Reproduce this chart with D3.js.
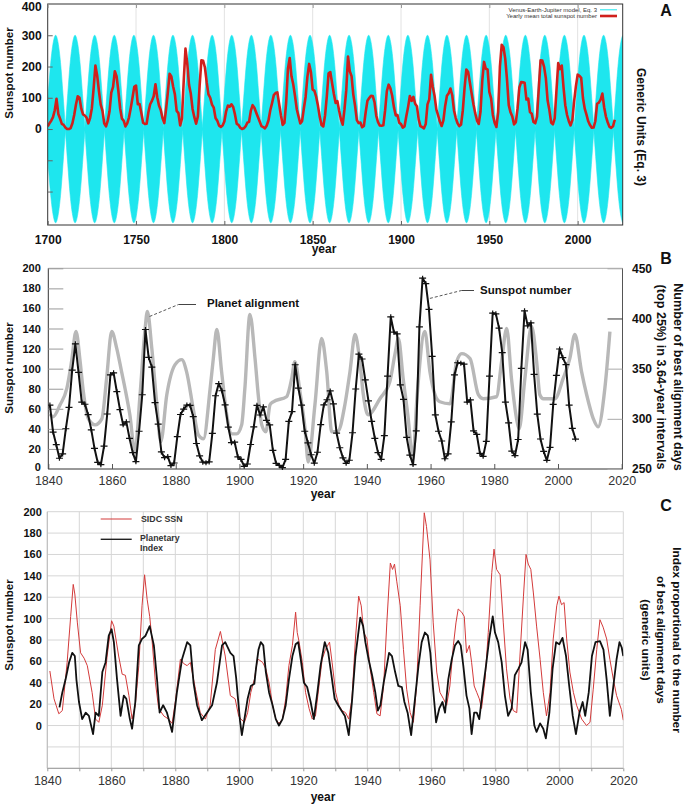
<!DOCTYPE html>
<html><head><meta charset="utf-8">
<script src="https://cdn.jsdelivr.net/npm/d3@7"></script>
<style>
body{margin:0;background:#fff;}
svg{display:block;font-family:"Liberation Sans",Arial,Helvetica,sans-serif;}
</style></head><body>
<svg id="c" width="685" height="805"></svg>
<script>
// ================= DATA =================
// Panel A: yearly mean total sunspot number, starting 1700
const aFirstYear = 1700;
const aSunspots = [
8.3,18.3,26.7,38.3,60.0,96.7,48.3,33.3,16.7,13.3,
5.0,0.0,0.0,3.3,18.3,45.0,78.3,105.0,100.0,65.0,
46.7,43.3,36.7,18.3,35.0,66.7,130.0,203.3,171.7,121.7,
78.3,58.3,18.3,8.3,26.7,56.7,116.7,135.0,185.0,168.3,
121.7,66.7,33.3,26.7,8.3,18.3,36.7,66.7,100.0,134.8,
139.0,79.5,79.7,51.2,20.3,16.0,17.0,54.0,79.3,90.0,
104.8,143.2,102.0,75.2,60.7,34.8,19.0,63.0,116.3,176.8,
168.0,136.0,110.8,58.0,51.0,11.7,33.0,154.2,257.3,209.8,
141.3,113.5,64.2,38.0,17.0,40.2,138.2,220.0,218.2,196.8,
149.8,111.0,100.0,78.2,68.3,35.5,26.7,10.7,6.8,11.3,
24.2,56.7,75.0,71.8,79.2,70.3,46.8,16.8,13.5,4.2,
0.0,2.3,8.3,20.3,23.2,59.0,76.3,68.3,52.9,38.5,
24.2,9.2,6.3,2.2,11.4,28.2,59.9,83.0,108.5,115.2,
117.4,80.8,44.3,13.4,19.5,85.8,192.7,227.3,168.7,143.0,
105.5,63.3,40.3,18.1,25.1,65.8,102.7,166.3,208.3,182.5,
126.3,122.0,102.7,74.1,39.0,12.7,8.2,43.4,104.4,178.3,
182.2,146.6,112.1,83.5,89.2,57.8,30.7,13.9,62.8,123.6,
232.0,185.3,169.2,110.1,74.5,28.3,18.9,20.7,5.7,10.0,
53.7,90.5,99.0,106.1,105.8,86.3,42.4,21.8,11.2,10.4,
11.8,59.5,121.7,142.0,130.0,106.6,69.4,43.8,44.4,20.2,
15.7,4.6,8.5,40.8,70.1,105.5,90.1,102.8,80.9,73.2,
30.9,9.5,6.0,2.4,16.1,79.0,95.0,173.6,134.6,105.7,
62.7,43.5,23.7,9.7,27.9,74.0,106.5,114.7,129.7,108.2,
59.4,35.1,18.6,9.2,14.6,60.2,132.8,190.6,182.6,148.0,
113.0,79.2,50.8,27.1,16.1,55.3,154.3,214.7,193.0,190.7,
118.9,98.3,45.0,20.1,6.6,54.2,200.7,269.3,261.7,225.1,
159.0,76.4,53.4,39.9,15.0,22.0,66.8,132.9,150.0,149.4,
148.0,94.4,97.6,54.1,49.2,22.5,18.4,39.3,131.0,220.1,
218.9,198.9,162.4,91.0,60.5,20.6,14.8,33.9,123.0,211.1,
191.8,203.3,133.0,76.1,44.9,25.1,11.6,28.9,88.3,136.3,
173.9,170.4,163.6,99.3,65.3,45.8,24.7,12.6,4.2,4.8,
24.9,80.8,84.5,94.0,113.3,69.8,39.8,21.7,7.0,3.6,
8.8,29.6];
// Panel A: Venus-Earth-Jupiter model lobes (centre years)
const vejPeakYears = [1693.4,1704.5,1715.5,1726.6,1737.7,1748.8,1759.9,1770.9,1782.0,1793.1,
  1804.2,1815.3,1826.3,1837.4,1848.5,1859.6,1870.6,1881.7,1892.8,1903.9,1915.0,1926.0,
  1937.1,1948.2,1959.3,1970.4,1981.4,1992.5,2003.6,2014.7,2025.8];
const vejAmplitude = 300;
const lobeOffsets = [-1,-0.75,-0.5,-0.25,0,0.25,0.5,0.75,1];
const lobeFractions = [0.015,0.38,0.71,0.92,1,0.92,0.71,0.38,0.015];
const aYTicks = [0,100,200,300,400];
const aXTicks = [1700,1750,1800,1850,1900,1950,2000];
const aLegend = ["Venus-Earth-Jupiter model, Eq. 3","Yearly mean total sunspot number"];

// Panel B: sunspot number (yearly, from 1840) and planet alignment (right axis)
const bFirstYear = 1840;
const bSunspots = [
63.7,36.8,24.2,10.7,15.0,40.1,61.5,98.5,124.7,96.3,
66.6,64.5,54.1,39.0,20.6,6.7,4.3,22.7,54.8,93.8,
95.8,77.2,59.1,44.0,47.0,30.5,16.3,7.3,37.6,74.0,
139.0,111.2,101.6,66.2,44.7,17.0,11.3,12.4,3.4,6.0,
32.3,54.3,59.7,63.7,63.5,52.2,25.4,13.1,6.8,6.3,
7.1,35.6,73.0,85.1,78.0,64.0,41.8,26.2,26.7,12.1,
9.5,2.7,5.0,24.4,42.0,63.5,53.8,62.0,48.5,43.9,
18.6,5.7,3.6,1.4,9.6,47.4,57.1,103.9,80.6,63.6,
37.6,26.1,14.2,5.8,16.7,44.3,63.9,69.0,77.8,64.9,
35.7,21.2,11.1,5.7,8.7,36.1,79.7,114.4,109.6,88.8,
67.8,47.5,30.6,16.3,9.6,33.2,92.6,151.6,136.3,134.7,
83.9,69.4,31.5,13.9,4.4,38.0,141.7,190.2,184.8,159.0,
112.3,53.9,37.6,27.9,10.2,15.1,47.0,93.8,105.9,105.5,
104.5,66.6,68.9,38.0,34.5,15.5,12.6,27.5,92.5,155.4,
154.6,140.4,115.9,66.6,45.9,17.9,13.4,29.4,100.2,157.6,
142.6,145.7,94.3,54.6,29.9,17.5,8.6,21.5,64.3,93.3,
119.6,111.0,104.0,63.7,40.4,29.8];
const bAlignment = [[1840.5,305],[1841.5,302],[1843.7,314],[1845.8,330],[1847.3,357],[1848.7,387],
[1850.0,357],[1851.0,327],[1852.6,300],[1854.7,294],[1856.8,300],[1858.3,340],[1859.9,387],
[1861.5,370],[1863.0,347],[1864.1,330],[1865.6,304],[1867.2,267],[1868.8,324],[1870.4,390],
[1871.1,407],[1872.5,370],[1874.0,317],[1875.3,277],[1877.2,324],[1879.8,354],[1881.9,359],
[1883.4,347],[1885.5,310],[1887.1,284],[1888.7,280],[1890.8,330],[1891.8,360],[1892.9,389],
[1894.4,347],[1896.0,304],[1897.6,285],[1899.1,285],[1900.7,294],[1901.7,330],[1903.3,404],
[1904.9,360],[1905.9,324],[1907.0,294],[1908.3,287],[1909.6,314],[1910.6,317],[1914.8,322],
[1916.4,340],[1917.4,357],[1919.0,327],[1920.6,290],[1921.6,257],[1923.7,314],[1925.8,380],
[1927.4,347],[1929.0,287],[1931.0,288],[1933.1,314],[1934.7,347],[1936.3,384],[1937.8,357],
[1938.9,324],[1940.4,304],[1944.1,320],[1947.2,337],[1948.8,364],[1949.9,380],[1951.4,340],
[1953.0,300],[1954.4,260],[1955.8,324],[1958.2,387],[1959.8,347],[1961.4,324],[1962.9,317],
[1966.1,315],[1968.2,357],[1969.8,365],[1972.4,360],[1975.0,324],[1976.5,320],[1980.7,322],
[1982.3,357],[1983.9,390],[1985.4,340],[1987.0,300],[1987.8,290],[1989.6,340],[1991.7,392],
[1993.3,357],[1994.3,324],[1995.4,320],[1999.0,320],[2001.6,340],[2003.7,360],[2005.3,384],
[2007.4,347],[2009.0,324],[2011.1,300],[2012.6,292],[2014.7,330],[2016.3,387]];
const bLeftTicks = [0,20,40,60,80,100,120,140,160,180,200];
const bRightTicks = [250,300,350,400,450];
const bXTicks = [1840,1860,1880,1900,1920,1940,1960,1980,2000,2020];

// Panel C: SIDC SSN and planetary index
const cSidc = [[1840.8,51],[1842.1,25],[1843.6,11],[1844.7,14],[1846.2,59],[1847.3,102],[1848.1,132],
[1848.6,123],[1849.4,96],[1850.4,68],[1851.5,63],[1852.5,56],[1854.0,31],[1855.1,6],[1856.1,3],
[1857.2,19],[1858.7,65],[1860.1,98],[1860.8,93],[1862.3,65],[1863.4,48],[1864.4,47],[1865.5,28],
[1866.5,6],[1867.5,19],[1868.6,56],[1869.6,112],[1870.4,141],[1871.2,118],[1872.0,102],[1872.7,81],
[1873.8,40],[1874.8,16],[1876.4,9],[1877.9,6],[1879.0,2],[1880.0,22],[1881.6,62],[1882.6,58],
[1883.7,56],[1884.7,59],[1886.3,34],[1887.8,12],[1889.4,6],[1890.9,19],[1892.5,71],[1894.1,88],
[1895.6,65],[1897.2,28],[1898.7,25],[1899.8,9],[1900.5,6],[1901.6,3],[1902.6,12],[1903.6,31],
[1904.7,43],[1905.7,62],[1906.4,61],[1907.3,59],[1908.3,53],[1909.3,40],[1910.4,19],[1911.4,6],
[1912.4,2],[1913.5,6],[1914.5,25],[1915.5,56],[1916.6,75],[1917.6,106],[1918.1,87],[1918.7,78],
[1919.7,59],[1920.7,31],[1921.8,16],[1922.8,6],[1923.8,9],[1924.9,37],[1925.9,62],[1926.9,71],
[1928.2,78],[1929.0,59],[1930.1,31],[1931.1,19],[1932.1,14],[1933.2,12],[1934.2,6],[1935.2,25],
[1936.3,81],[1937.3,121],[1938.1,112],[1938.9,87],[1939.9,81],[1940.9,53],[1942.0,31],[1943.0,11],
[1944.0,9],[1945.1,37],[1946.1,96],[1947.2,152],[1947.9,146],[1948.5,151],[1949.2,135],[1950.3,112],
[1951.3,71],[1952.3,34],[1953.4,12],[1954.4,3],[1955.4,37],[1956.5,112],[1957.8,199],[1958.5,186],
[1959.6,155],[1960.6,96],[1961.7,50],[1962.7,31],[1963.8,25],[1964.8,19],[1965.8,37],[1966.9,75],
[1967.7,96],[1968.4,109],[1969.5,106],[1970.3,102],[1971.0,68],[1971.9,75],[1972.6,59],[1973.4,37],
[1974.2,31],[1975.0,25],[1975.7,16],[1976.8,43],[1977.8,87],[1978.9,143],[1979.6,165],[1980.4,146],
[1981.5,141],[1982.5,96],[1983.5,53],[1984.6,25],[1985.6,14],[1986.7,12],[1987.7,65],[1988.8,121],
[1989.6,160],[1990.3,151],[1991.1,146],[1991.9,124],[1992.9,93],[1994.0,62],[1995.0,31],[1996.0,9],
[1997.1,31],[1998.1,81],[1999.2,112],[1999.9,121],[2000.7,113],[2001.5,115],[2002.3,81],[2003.3,50],
[2004.4,31],[2005.4,19],[2007.0,6],[2008.5,0],[2009.6,3],[2010.6,34],[2011.7,71],[2012.7,99],
[2013.7,92],[2014.8,81],[2015.8,62],[2016.9,43],[2017.9,28],[2019.4,15],[2020.0,5]];
const cPlanetary = [[1843.8,17],[1844.7,31],[1845.7,43],[1846.8,59],[1847.8,68],[1848.6,65],[1849.1,43],
[1849.9,22],[1850.9,6],[1852.0,12],[1853.0,9],[1854.3,-8],[1855.1,12],[1856.1,9],[1857.2,50],
[1858.2,59],[1859.2,84],[1860.1,90],[1860.8,78],[1861.8,43],[1862.9,9],[1863.9,28],[1864.7,25],
[1865.8,6],[1866.5,-3],[1867.5,22],[1868.6,75],[1869.6,81],[1870.7,84],[1872.0,93],[1873.3,75],
[1874.3,43],[1875.1,12],[1876.2,19],[1877.4,12],[1879.0,-6],[1880.5,31],[1882.1,62],[1883.7,78],
[1884.7,75],[1885.7,40],[1886.8,19],[1888.3,5],[1889.9,12],[1891.5,19],[1893.0,40],[1894.6,75],
[1895.6,78],[1897.2,68],[1898.2,65],[1899.0,45],[1899.6,25],[1900.2,5],[1900.8,-9],[1901.6,6],
[1902.6,25],[1903.6,37],[1904.7,39],[1905.2,53],[1906.0,71],[1906.7,78],[1907.5,75],[1908.3,50],
[1909.3,31],[1910.4,19],[1911.4,6],[1912.4,0],[1913.5,6],[1914.5,19],[1915.5,43],[1916.6,65],
[1917.6,76],[1918.4,78],[1919.2,62],[1920.2,40],[1921.2,36],[1922.3,22],[1923.3,6],[1924.4,31],
[1925.4,56],[1926.7,78],[1927.8,68],[1928.8,47],[1929.8,25],[1930.9,19],[1931.9,14],[1933.0,9],
[1934.2,-9],[1935.2,22],[1936.3,65],[1937.1,84],[1937.8,101],[1938.7,93],[1939.4,78],[1940.4,62],
[1941.5,47],[1942.5,31],[1943.3,14],[1944.1,19],[1945.1,40],[1946.1,56],[1946.8,68],[1947.7,65],
[1948.7,50],[1949.7,37],[1950.8,36],[1951.6,22],[1952.6,12],[1953.7,-9],[1954.9,25],[1956.0,56],
[1957.0,78],[1958.0,87],[1958.9,84],[1959.7,68],[1960.6,33],[1961.5,3],[1962.5,16],[1963.5,22],
[1964.3,12],[1965.3,43],[1966.4,62],[1967.4,75],[1968.4,79],[1969.2,75],[1970.0,56],[1971.0,28],
[1971.9,16],[1972.6,-8],[1973.4,12],[1974.2,12],[1975.0,6],[1976.0,31],[1977.1,56],[1978.1,81],
[1979.2,102],[1979.9,87],[1980.9,78],[1982.0,59],[1983.0,28],[1984.0,9],[1985.1,16],[1986.1,47],
[1987.2,53],[1988.2,59],[1989.3,78],[1990.1,71],[1991.1,31],[1992.2,0],[1992.9,-6],[1994.0,2],
[1995.0,-3],[1995.8,-12],[1996.9,12],[1997.9,53],[1999.0,78],[2000.0,76],[2001.0,82],[2002.1,65],
[2003.1,37],[2004.2,9],[2005.2,-8],[2006.3,12],[2007.3,22],[2008.1,9],[2009.2,31],[2010.2,65],
[2011.3,78],[2012.7,79],[2013.8,71],[2014.8,43],[2015.8,9],[2016.9,37],[2017.9,62],[2018.8,78],
[2019.5,73],[2020.0,65]];
const cYTicks = [0,20,40,60,80,100,120,140,160,180,200];
const cYGrid = [-40,-20,0,20,40,60,80,100,120,140,160,180,200];
const cXTicks = [1840,1860,1880,1900,1920,1940,1960,1980,2000,2020];
const cXGrid = [1840,1850,1860,1870,1880,1890,1900,1910,1920,1930,1940,1950,1960,1970,1980,1990,2000,2010,2020];

// ================= DRAW =================
const svg = d3.select("#c");
const defs = svg.append("defs");
function clip(id,x0,y0,x1,y1){defs.append("clipPath").attr("id",id).append("rect")
  .attr("x",x0).attr("y",y0).attr("width",x1-x0).attr("height",y1-y0);}
function styleAxis(g, size, weight, color){
  g.select(".domain").remove();
  g.selectAll("text").attr("font-size",size).attr("font-weight",weight).attr("fill",color)
   .attr("font-family",'"Liberation Sans",Arial,sans-serif');
}

// ---------- Panel A ----------
const A = {l:47.7, r:622.7, t:4, b:225};
const xA = d3.scaleLinear().domain([1700, 2025.5]).range([A.l, A.r]);
const yA = d3.scaleLinear().domain([-307, 400]).range([A.b, A.t]);
clip("clipA", A.l, A.t, A.r, A.b);
const gA = svg.append("g");
gA.append("g").selectAll("line").data(aXTicks.slice(1)).join("line")
  .attr("x1",d=>xA(d)).attr("x2",d=>xA(d)).attr("y1",A.t).attr("y2",A.b)
  .attr("stroke","#e2e2e2").attr("stroke-width",1);
const cyan = "#1ee6ee";
const lobes = vejPeakYears.map((p,i)=>{
  const prev = i>0 ? vejPeakYears[i-1] : p-(vejPeakYears[1]-vejPeakYears[0]);
  const next = i<vejPeakYears.length-1 ? vejPeakYears[i+1] : p+(p-vejPeakYears[i-1]);
  const hl=(p-prev)/2, hr=(next-p)/2;
  return lobeOffsets.map((o,k)=>({t: p + o*(o<0?hl:hr), a: vejAmplitude*lobeFractions[k]}));
});
const lobeArea = d3.area().x(d=>xA(d.t)).y0(d=>yA(-d.a)).y1(d=>yA(d.a)).curve(d3.curveMonotoneX);
const gCy = gA.append("g").attr("clip-path","url(#clipA)");
gCy.selectAll("path").data(lobes).join("path").attr("d",lobeArea)
  .attr("fill",cyan).attr("stroke",cyan).attr("stroke-width",0.6);
gCy.append("line").attr("x1",A.l).attr("x2",A.r).attr("y1",yA(0)).attr("y2",yA(0))
  .attr("stroke",cyan).attr("stroke-width",3);
const aSeries = aSunspots.map((v,i)=>[aFirstYear+i, v]);
gA.append("path").attr("clip-path","url(#clipA)").datum(aSeries)
  .attr("d", d3.line().x(d=>xA(d[0])).y(d=>yA(d[1])))
  .attr("fill","none").attr("stroke","#d0201c").attr("stroke-width",2.6)
  .attr("stroke-linejoin","round");
gA.append("rect").attr("x",A.l).attr("y",A.t).attr("width",A.r-A.l).attr("height",A.b-A.t)
  .attr("fill","none").attr("stroke","#333").attr("stroke-width",1);
// axes A
const axAL = gA.append("g").attr("transform",`translate(${A.l},0)`)
  .call(d3.axisLeft(yA).tickValues(aYTicks).tickSize(0).tickPadding(6).tickFormat(d3.format("d")));
styleAxis(axAL, 12, "bold", "#111");
axAL.selectAll("text").filter(d=>d===400).attr("dy","0.5em");
gA.append("g").attr("transform",`translate(${A.l},0)`)
  .call(d3.axisLeft(yA).tickValues([-200,-100,0,100,200,300]).tickSize(-5).tickFormat(""))
  .call(g=>{g.select(".domain").remove(); g.selectAll("line").attr("stroke","#666");});
const axAB = gA.append("g").attr("transform",`translate(0,${A.b})`)
  .call(d3.axisBottom(xA).tickValues(aXTicks).tickSize(-4).tickPadding(10).tickFormat(d3.format("d")));
styleAxis(axAB, 12, "bold", "#111");
axAB.selectAll("line").attr("stroke","#666");
gA.append("g").attr("transform",`translate(0,${A.t})`)
  .call(d3.axisTop(xA).tickValues(aXTicks).tickSize(-4).tickFormat(""))
  .call(g=>{g.select(".domain").remove(); g.selectAll("line").attr("stroke","#999");});
// legend A
const legA = gA.append("g").attr("font-size",6).attr("fill","#333");
legA.append("text").attr("x",597).attr("y",11.6).attr("text-anchor","end").text(aLegend[0]);
legA.append("text").attr("x",597).attr("y",17.8).attr("text-anchor","end").text(aLegend[1]);
legA.append("line").attr("x1",600).attr("x2",617).attr("y1",9.8).attr("y2",9.8).attr("stroke",cyan).attr("stroke-width",1);
legA.append("line").attr("x1",600).attr("x2",617).attr("y1",16).attr("y2",16).attr("stroke","#d0201c").attr("stroke-width",2.6);
// titles A
svg.append("text").attr("transform","translate(13,73) rotate(-90)").attr("text-anchor","middle")
  .attr("font-size",11.5).attr("font-weight","bold").attr("fill","#111").text("Sunspot number");
svg.append("text").attr("transform","translate(637,127) rotate(90)").attr("text-anchor","middle")
  .attr("font-size",12).attr("font-weight","bold").attr("fill","#111").text("Generic Units (Eq. 3)");
svg.append("text").attr("x",324).attr("y",253).attr("text-anchor","middle")
  .attr("font-size",12).attr("font-weight","bold").attr("fill","#111").text("year");
svg.append("text").attr("x",666).attr("y",16).attr("text-anchor","middle")
  .attr("font-size",16).attr("font-weight","bold").attr("fill","#111").text("A");

// ---------- Panel B ----------
const B = {l:48.3, r:622.5, t:268.3, b:469};
const xB = d3.scaleLinear().domain([1840, 2020]).range([48.3, 621.7]);
const yB = d3.scaleLinear().domain([0, 200]).range([B.b, B.t]);
const yBR = d3.scaleLinear().domain([250, 450]).range([B.b, B.t]);
clip("clipB", B.l, B.t-2, B.r, B.b+2);
const gB = svg.append("g");
gB.append("line").attr("x1",B.l).attr("x2",B.r).attr("y1",B.t).attr("y2",B.t).attr("stroke","#aaa");
gB.append("line").attr("x1",B.r).attr("x2",B.r).attr("y1",B.t).attr("y2",B.b).attr("stroke","#555");
gB.append("line").attr("x1",B.l).attr("x2",B.l).attr("y1",B.t).attr("y2",B.b).attr("stroke","#333");
gB.append("line").attr("x1",B.l).attr("x2",B.r).attr("y1",B.b).attr("y2",B.b).attr("stroke","#333");
const axBL = gB.append("g").attr("transform",`translate(${B.l},0)`)
  .call(d3.axisLeft(yB).tickValues(bLeftTicks).tickSize(-15).tickPadding(7.5));
styleAxis(axBL, 11, "bold", "#111");
axBL.selectAll("line").attr("stroke","#999");
axBL.selectAll("text").filter(d=>d===0).attr("dy","0.1em");
const axBR = gB.append("g").attr("transform",`translate(${B.r},0)`)
  .call(d3.axisRight(yBR).tickValues(bRightTicks).tickSize(-15).tickPadding(9.5));
styleAxis(axBR, 12, "bold", "#111");
axBR.selectAll("line").attr("stroke",(d)=>d===400?"#333":"#aaa");
const axBB = gB.append("g").attr("transform",`translate(0,${B.b})`)
  .call(d3.axisBottom(xB).tickValues(bXTicks).tickSize(-5).tickPadding(7.5).tickFormat(d3.format("d")));
styleAxis(axBB, 12.5, "normal", "#333");
axBB.selectAll("line").attr("stroke","#555");
const gBp = gB.append("g").attr("clip-path","url(#clipB)");
gBp.append("path").datum(bAlignment)
  .attr("d", d3.line().x(d=>xB(d[0])).y(d=>yBR(d[1])).curve(d3.curveMonotoneX))
  .attr("fill","none").attr("stroke","#b8b8b8").attr("stroke-width",3.4).attr("stroke-linejoin","round");
const bSeries = bSunspots.map((v,i)=>[bFirstYear+i+0.5, v]);
gBp.append("path").datum(bSeries)
  .attr("d", d3.line().x(d=>xB(d[0])).y(d=>yB(d[1])))
  .attr("fill","none").attr("stroke","#111").attr("stroke-width",2).attr("stroke-linejoin","round");
const mk = gBp.append("g").attr("stroke","#111").attr("stroke-width",1.2);
mk.selectAll("line.h").data(bSeries).join("line").attr("class","h")
  .attr("x1",d=>xB(d[0])-3.5).attr("x2",d=>xB(d[0])+3.5).attr("y1",d=>yB(d[1])).attr("y2",d=>yB(d[1]));
mk.selectAll("line.v").data(bSeries).join("line").attr("class","v")
  .attr("x1",d=>xB(d[0])).attr("x2",d=>xB(d[0])).attr("y1",d=>yB(d[1])-2.5).attr("y2",d=>yB(d[1])+2.5);
// annotations B
function leader(x0,y0,x1,y1,x2){
  gB.append("line").attr("x1",x0).attr("y1",y0).attr("x2",x1).attr("y2",y1)
    .attr("stroke","#444").attr("stroke-width",0.9).attr("stroke-dasharray","3,2");
  gB.append("line").attr("x1",x1).attr("y1",y1).attr("x2",x2).attr("y2",y1)
    .attr("stroke","#444").attr("stroke-width",1);
}
leader(xB(1871.8), yB(152), 178.5, 304.5, 196);
gB.append("text").attr("x",207).attr("y",307).attr("font-size",11.5).attr("font-weight","bold")
  .attr("fill","#111").text("Planet alignment");
leader(xB(1959.8), yB(170), 461.5, 290.5, 474);
gB.append("text").attr("x",480).attr("y",293.5).attr("font-size",11.5).attr("font-weight","bold")
  .attr("fill","#111").text("Sunspot number");
svg.append("text").attr("transform","translate(13,368) rotate(-90)").attr("text-anchor","middle")
  .attr("font-size",11.5).attr("font-weight","bold").attr("fill","#111").text("Sunspot number");
const rtB = svg.append("text").attr("transform","translate(673.5,377) rotate(90)").attr("text-anchor","middle")
  .attr("font-size",12.6).attr("font-weight","bold").attr("fill","#111");
rtB.append("tspan").attr("x",0).attr("y",0).text("Number of best alignment days");
rtB.append("tspan").attr("x",0).attr("y",16.5).text("(top 25%) in 3.64-year intervals");
svg.append("text").attr("x",323).attr("y",498).attr("text-anchor","middle")
  .attr("font-size",12).attr("font-weight","bold").attr("fill","#111").text("year");
svg.append("text").attr("x",666).attr("y",264).attr("text-anchor","middle")
  .attr("font-size",16).attr("font-weight","bold").attr("fill","#111").text("B");

// ---------- Panel C ----------
const C = {l:47.3, r:623.3, t:511.7, b:768.3};
const xC = d3.scaleLinear().domain([1840, 2020]).range([C.l, C.r]);
const yC = d3.scaleLinear().domain([-40, 200]).range([C.b, C.t]);
clip("clipC", C.l, C.t-3, C.r, C.b);
const gC = svg.append("g");
gC.append("g").selectAll("line").data(cYGrid).join("line")
  .attr("x1",C.l).attr("x2",C.r).attr("y1",d=>yC(d)).attr("y2",d=>yC(d))
  .attr("stroke","#d6d6d6").attr("stroke-width",1);
gC.append("g").selectAll("line").data(cXGrid).join("line")
  .attr("x1",d=>xC(d)).attr("x2",d=>xC(d)).attr("y1",C.t).attr("y2",C.b)
  .attr("stroke","#d6d6d6").attr("stroke-width",1);
gC.append("line").attr("x1",C.l).attr("x2",C.r).attr("y1",C.b).attr("y2",C.b).attr("stroke","#999");
gC.append("line").attr("x1",C.l).attr("x2",C.l).attr("y1",C.t).attr("y2",C.b).attr("stroke","#bbb");
const axCL = gC.append("g").attr("transform",`translate(${C.l},0)`)
  .call(d3.axisLeft(yC).tickValues(cYTicks).tickSize(0).tickPadding(5.5));
styleAxis(axCL, 11, "bold", "#111");
const axCB = gC.append("g").attr("transform",`translate(0,${C.b})`)
  .call(d3.axisBottom(xC).tickValues(cXGrid).tickSize(3).tickPadding(4.5)
    .tickFormat(d=>cXTicks.includes(d)?d3.format("d")(d):""));
styleAxis(axCB, 12.5, "normal", "#333");
axCB.selectAll("line").attr("stroke","#999");
const gCp = gC.append("g").attr("clip-path","url(#clipC)");
gCp.append("path").datum(cSidc)
  .attr("d", d3.line().x(d=>xC(d[0])).y(d=>yC(d[1])))
  .attr("fill","none").attr("stroke","#d33a3a").attr("stroke-width",1).attr("stroke-linejoin","round");
gCp.append("path").datum(cPlanetary)
  .attr("d", d3.line().x(d=>xC(d[0])).y(d=>yC(d[1])))
  .attr("fill","none").attr("stroke","#111").attr("stroke-width",1.8).attr("stroke-linejoin","round");
// legend C
gC.append("line").attr("x1",100.7).attr("x2",131.7).attr("y1",519).attr("y2",519).attr("stroke","#d33a3a").attr("stroke-width",1);
gC.append("line").attr("x1",100.7).attr("x2",131.7).attr("y1",539.3).attr("y2",539.3).attr("stroke","#222").attr("stroke-width",1.4);
const legC = gC.append("g").attr("font-size",8.8).attr("font-weight","bold").attr("fill","#333");
legC.append("text").attr("x",141).attr("y",522).text("SIDC SSN");
legC.append("text").attr("x",140).attr("y",541.3).text("Planetary");
legC.append("text").attr("x",140).attr("y",551.3).text("Index");
svg.append("text").attr("transform","translate(13,625) rotate(-90)").attr("text-anchor","middle")
  .attr("font-size",11.5).attr("font-weight","bold").attr("fill","#111").text("Sunspot number");
const rtC = svg.append("text").attr("transform","translate(673,640) rotate(90)").attr("text-anchor","middle")
  .attr("font-size",11.8).attr("font-weight","bold").attr("fill","#111");
rtC.append("tspan").attr("x",0).attr("y",0).text("Index proportional to the number");
rtC.append("tspan").attr("x",0).attr("y",16).text("of best alignment days");
rtC.append("tspan").attr("x",0).attr("y",31).text("(generic units)");
svg.append("text").attr("x",323).attr("y",801).attr("text-anchor","middle")
  .attr("font-size",12).attr("font-weight","bold").attr("fill","#111").text("year");
svg.append("text").attr("x",666).attr("y",511).attr("text-anchor","middle")
  .attr("font-size",16).attr("font-weight","bold").attr("fill","#111").text("C");
</script>
</body></html>
